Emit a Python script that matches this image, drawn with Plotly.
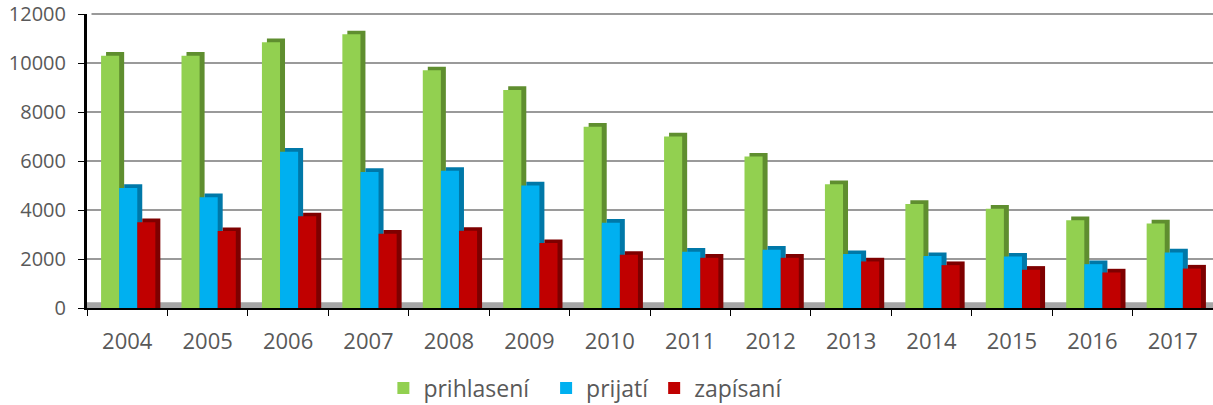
import plotly.graph_objects as go

years = ["2004", "2005", "2006", "2007", "2008", "2009", "2010",
         "2011", "2012", "2013", "2014", "2015", "2016", "2017"]
prihlaseni = [10300, 10300, 10850, 11170, 9700, 8900, 7400, 7000, 6180, 5050, 4250, 4050, 3580, 3450]
prijati = [4900, 4520, 6380, 5550, 5600, 5000, 3480, 2300, 2380, 2200, 2120, 2100, 1790, 2270]
zapisani = [3500, 3140, 3740, 3030, 3150, 2650, 2170, 2050, 2050, 1900, 1750, 1560, 1450, 1610]
names = ["prihlasení", "prijatí", "zapísaní"]

NB = "\u00a0"
series = [
    (names[0] + NB * 2, prihlaseni, "#92D050", "#5F8E2F"),
    (names[1], prijati, "#00B0F0", "#0078A8"),
    (names[2], zapisani, "#C00000", "#7E0000"),
]

W = 0.225
OFF0 = -0.325
DX = 0.062
DY = 150

fig = go.Figure()
for i, (name, vals, col, dark) in enumerate(series):
    off = OFF0 + i * W
    fig.add_trace(go.Bar(
        x=years, y=[v + DY for v in vals], offset=off + DX, width=W,
        marker=dict(color=dark, line=dict(width=0)), showlegend=False,
        hoverinfo="skip"))
    fig.add_trace(go.Bar(
        x=years, y=vals, offset=off, width=W, name=name,
        marker=dict(color=col, line=dict(width=0))))

fig.add_shape(type="rect", xref="paper", yref="y", x0=0, x1=1, y0=0, y1=230,
              fillcolor="#A6A6A6", line=dict(width=0), layer="below")
fig.add_shape(type="line", xref="paper", yref="paper", x0=0.004, x1=1, y0=1, y1=1,
              line=dict(color="#9A9A9A", width=2), layer="below")

fig.update_layout(
    width=1213, height=405,
    margin=dict(l=87, r=0, t=14, b=97, autoexpand=False),
    barmode="overlay",
    plot_bgcolor="white", paper_bgcolor="white",
    font=dict(family="Open Sans", color="#595959"),
    legend=dict(orientation="h", xref="container", yref="container",
                x=0.483, xanchor="center", y=0.042, yanchor="middle",
                font=dict(size=23, color="#595959"), itemwidth=30,
                traceorder="normal"),
    xaxis=dict(
        range=[-0.5, 13.5], autorange=False, automargin=False,
        showgrid=False, showline=True, linecolor="black", linewidth=2,
        ticks="outside", tickson="boundaries", ticklen=6, tickcolor="black", tickwidth=1,
        tickfont=dict(size=22, color="#595959"), ticklabelstandoff=13,
    ),
    yaxis=dict(
        range=[0, 12000], dtick=2000, tickformat="d", automargin=False,
        showgrid=True, gridcolor="#9A9A9A", gridwidth=2,
        showline=True, linecolor="black", linewidth=3, zeroline=False,
        ticks="outside", ticklen=6, tickcolor="black", tickwidth=1,
        tickfont=dict(size=20, color="#595959"), ticklabelstandoff=8,
    ),
)

fig.write_html("out.html", config={"displayModeBar": False},
               post_script="document.body.style.margin='0';document.body.style.overflow='hidden';")
